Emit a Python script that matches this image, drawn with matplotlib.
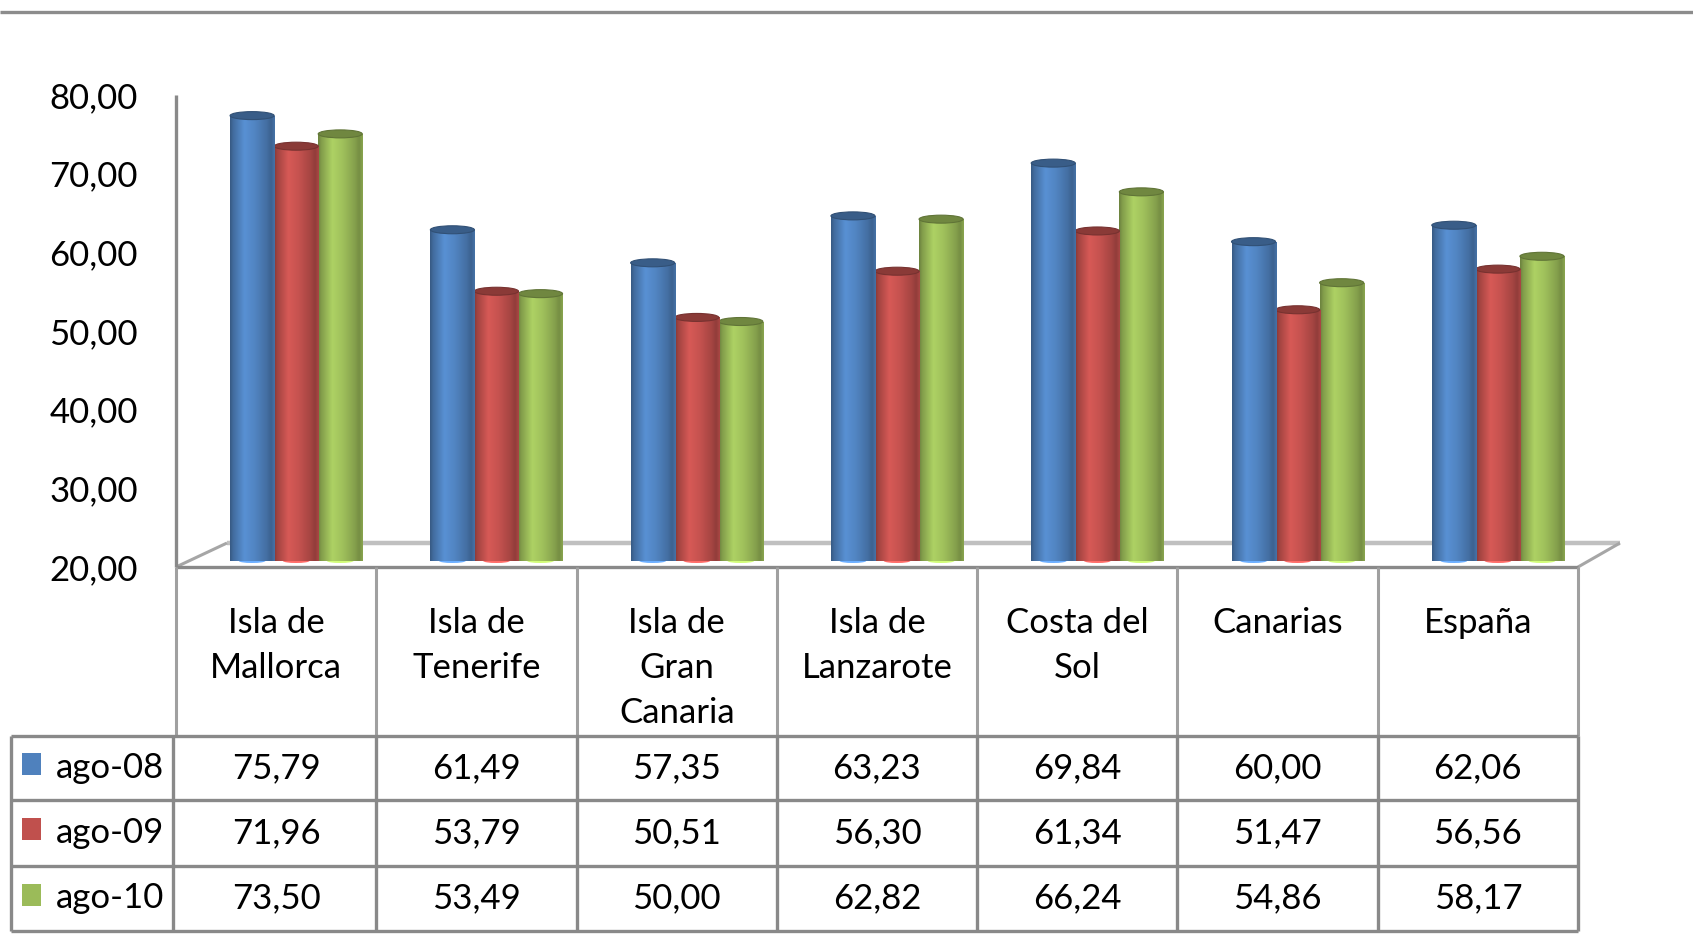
import numpy as np
import matplotlib
matplotlib.use("Agg")
import matplotlib.pyplot as plt
from matplotlib.patches import Ellipse, Rectangle
from matplotlib.lines import Line2D
from matplotlib.colors import to_rgb

# ---------------- data ----------------
categories = ["Isla de\nMallorca", "Isla de\nTenerife", "Isla de\nGran\nCanaria",
              "Isla de\nLanzarote", "Costa del\nSol", "Canarias", "España"]
series_names = ["ago-08", "ago-09", "ago-10"]
ago08 = [75.79, 61.49, 57.35, 63.23, 69.84, 60.00, 62.06]
ago09 = [71.96, 53.79, 50.51, 56.30, 61.34, 51.47, 56.56]
ago10 = [73.50, 53.49, 50.00, 62.82, 66.24, 54.86, 58.17]
series_values = [ago08, ago09, ago10]
yticks = [20, 30, 40, 50, 60, 70, 80]
colors = ["#4F81BD", "#C0504D", "#9BBB59"]

plt.rcParams['font.family'] = ['Lato', 'DejaVu Sans']

W, H = 1693, 950
fig = plt.figure(figsize=(W / 100, H / 100), dpi=100)
fs = 25

# background axes in pixel coordinates for frame / table
bg = fig.add_axes([0, 0, 1, 1], zorder=0)
bg.set_xlim(0, W)
bg.set_ylim(H, 0)
bg.axis('off')

# main chart axes (3D perspective: bars appear slightly taller than back wall scale)
x_left, x_right = 176, 1578
y_base, y_top = 561, 82
ax = fig.add_axes([x_left / W, (H - y_base) / H, (x_right - x_left) / W, (y_base - y_top) / H], zorder=1)
ax.patch.set_visible(False)

n = len(categories)
bw = 0.22
shift = 0.10
prof_t = [0, 0.07, 0.32, 0.55, 0.82, 0.92, 1.0]
prof_v = [0.70, 0.84, 1.12, 1.03, 0.86, 0.76, 0.88]
t = np.linspace(0, 1, 80)
prof = np.interp(t, prof_t, prof_v)

for j, (vals, col) in enumerate(zip(series_values, colors)):
    xs = np.arange(n) + 0.5 + shift + (j - 1) * bw
    heights = np.array(vals) - 20
    base = np.array(to_rgb(col))
    bars = ax.bar(xs, heights, bottom=20, width=bw, color=col, zorder=3 - 0.1 * j, linewidth=0)
    for b, v in zip(bars, vals):
        x0, y0, w, h = b.get_x(), b.get_y(), b.get_width(), b.get_height()
        img = np.clip(base[None, None, :] * prof[None, :, None], 0, 1)
        im = ax.imshow(img, extent=[x0, x0 + w, y0, y0 + h], aspect='auto',
                       zorder=b.zorder + 0.01, interpolation='bilinear')
        im.set_clip_path(b)
        ax.add_patch(Ellipse((x0 + w / 2, y0), w * 0.6, 0.5, facecolor=np.clip(base * 1.35, 0, 1),
                             edgecolor='none', zorder=b.zorder - 0.05, clip_on=False))
        ax.add_patch(Ellipse((x0 + w / 2, v), w, 1.0, facecolor=base * 0.72,
                             edgecolor=base * 0.62, linewidth=0.8, zorder=b.zorder + 0.02, clip_on=False))

ax.set_xlim(0, n)
ax.set_ylim(20, 80)
ax.set_xticks([])
ax.set_yticks([])
for s in ax.spines.values():
    s.set_visible(False)

# y tick labels on the back-wall scale
lab_y0, lab_y1 = 570, 98
for v in yticks:
    yy = lab_y0 + (v - yticks[0]) * (lab_y1 - lab_y0) / (yticks[-1] - yticks[0])
    bg.text(138, yy, f"{v:.2f}".replace('.', ','), ha='right', va='center', fontsize=fs, color='black')

def line(x0, y0, x1, y1, color='#898989', lw=2.2, z=1):
    bg.add_line(Line2D([x0, x1], [y0, y1], color=color, linewidth=lw, zorder=z,
                       solid_capstyle='butt'))

# top border line
line(0, 12, W, 12, color='#8c8c8c', lw=2.4)
# floor
line(227, 543, 1620, 543, color='#c0c0c0', lw=3.2)
line(176, 567, 227, 543, color='#a6a6a6', lw=2.2)
line(1578, 567, 1620, 543, color='#a6a6a6', lw=2.2)
line(176, 567, 1578, 567, color='#898989', lw=2.4)
# y-axis line
line(176, 95, 176, 567, color='#898989', lw=2.4)

# table
col_w = (x_right - x_left) / n
col_x = [x_left + k * col_w for k in range(n + 1)]
row_y = [736, 800, 866, 931]
for k, xk in enumerate(col_x):
    line(xk, 567, xk, 736, color='#a0a0a0', lw=2.2)
for yk in row_y:
    line(11, yk, x_right, yk, color='#898989', lw=2.4)
for xk in [11, 173] + col_x[1:]:
    line(xk, 736, xk, 931, color='#898989', lw=2.4)

# category labels
for i, c in enumerate(categories):
    bg.text((col_x[i] + col_x[i + 1]) / 2, 607, c, ha='center', va='top',
            fontsize=fs, linespacing=1.5, color='black')

# data rows
for r, (name, vals, col) in enumerate(zip(series_names, series_values, colors)):
    yc = (row_y[r] + row_y[r + 1]) / 2
    bg.add_patch(Rectangle((22, yc - 15), 19, 22, facecolor=col, edgecolor='none'))
    bg.text(56, yc, name, ha='left', va='center', fontsize=fs, color='black')
    for i, v in enumerate(vals):
        bg.text((col_x[i] + col_x[i + 1]) / 2, yc, f"{v:.2f}".replace('.', ','),
                ha='center', va='center', fontsize=fs, color='black')

fig.savefig("out.png", dpi=100)
